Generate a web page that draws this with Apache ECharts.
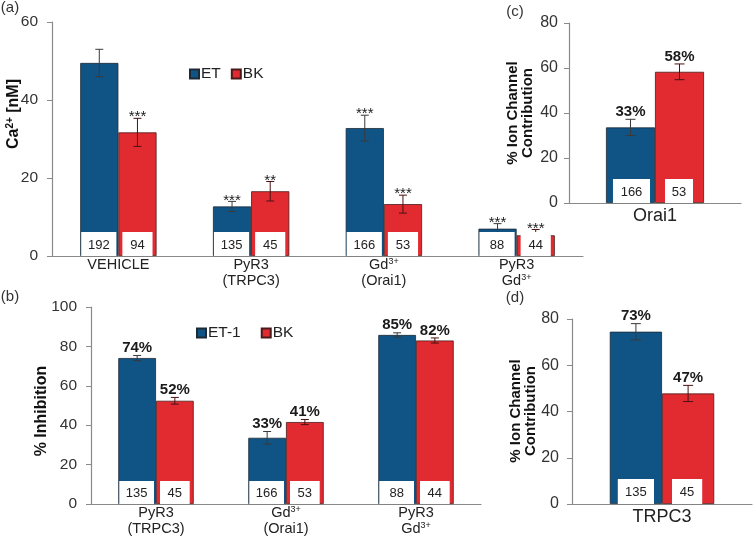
<!DOCTYPE html>
<html><head><meta charset="utf-8">
<script src="https://cdn.jsdelivr.net/npm/echarts/dist/echarts.min.js"></script>
<style>html,body{margin:0;padding:0;background:#fff}#c{width:755px;height:543px}</style>
</head><body><div id="c"></div>
<script>
// ---------- Panel (a): Ca2+ [nM] ----------
const catsA = ['VEHICLE', 'PyR3\n(TRPC3)', 'Gd{s|3+}\n(Orai1)', 'PyR3\nGd{s|3+}'];
const etA = [49.5, 12.7, 32.8, 7.0];
const etErrA = [3.5, 1.3, 3.3, 1.3];
const bkA = [31.7, 16.6, 13.3, 5.3];
const bkErrA = [3.6, 2.5, 2.3, 1.5];
const nEtA = [192, 135, 166, 88];
const nBkA = [94, 45, 53, 44];
const starEtA = ['', '***', '***', '***'];
const starBkA = ['***', '**', '***', '***'];
const maxA = 60;

// ---------- Panel (b): % Inhibition ----------
const catsB = ['PyR3\n(TRPC3)', 'Gd{s|3+}\n(Orai1)', 'PyR3\nGd{s|3+}'];
const etB = [74.1, 33.6, 85.8];
const etErrB = [1.3, 3.2, 1.1];
const bkB = [52.4, 41.6, 83.0];
const bkErrB = [1.7, 1.3, 1.3];
const nEtB = [135, 166, 88];
const nBkB = [45, 53, 44];
const pctEtB = ['74%', '33%', '85%'];
const pctBkB = ['52%', '41%', '82%'];
const maxB = 100;

// ---------- Panel (c): Orai1 contribution ----------
const catsC = ['Orai1'];
const etC = [33.6];
const etErrC = [3.6];
const bkC = [58.3];
const bkErrC = [3.5];
const nEtC = [166];
const nBkC = [53];
const pctEtC = ['33%'];
const pctBkC = ['58%'];
const maxC = 80;

// ---------- Panel (d): TRPC3 contribution ----------
const catsD = ['TRPC3'];
const etD = [74.5];
const etErrD = [3.5];
const bkD = [47.8];
const bkErrD = [3.5];
const nEtD = [135];
const nBkD = [45];
const pctEtD = ['73%'];
const pctBkD = ['47%'];
const maxD = 80;

const yInterval = 20;

// ---------- styles ----------
const FONT = "'Liberation Sans', Arial, Helvetica, sans-serif";
const BLUE = '#0f5485', RED = '#e22b31';
const AXIS = '#8a8a8a';

const panels = [
  {grid:{left:52, top:22, width:531, height:234}, cats:catsA, max:maxA, gap:0.425, xFont:14.5, xMargin:1, yFont:15.5, yMargin:14,
   et:etA, etErr:etErrA, bk:bkA, bkErr:bkErrA, nEt:nEtA, nBk:nBkA, noteEt:starEtA, noteBk:starBkA,
   insEt:[1,2], insBk:[4,4], boxH:24, cap:8, noteFont:'15px '+FONT, noteDy:-1, noteVA:'middle', etName:'ET', bkName:'BK'},
  {grid:{left:91, top:307, width:390, height:197}, cats:catsB, max:maxB, gap:0.42, xFont:14.5, xMargin:1, yFont:15.5, yMargin:14,
   et:etB, etErr:etErrB, bk:bkB, bkErr:bkErrB, nEt:nEtB, nBk:nBkB, noteEt:pctEtB, noteBk:pctBkB,
   insEt:[1,2], insBk:[4,4], boxH:23, cap:8, noteFont:'bold 15px '+FONT, noteDy:0, noteVA:'bottom', etName:'ET-1', bkName:'BK'},
  {grid:{left:569, top:23, width:172, height:180}, cats:catsC, max:maxC, gap:0.43, xFont:18, xMargin:5, yFont:16, yMargin:11,
   et:etC, etErr:etErrC, bk:bkC, bkErr:bkErrC, nEt:nEtC, nBk:nBkC, noteEt:pctEtC, noteBk:pctBkC,
   insEt:[7,5], insBk:[10,11], boxH:24, cap:10, noteFont:'bold 15px '+FONT, noteDy:0, noteVA:'bottom', etName:'ET c', bkName:'BK c'},
  {grid:{left:572, top:319, width:180, height:185}, cats:catsD, max:maxD, gap:0.42, xFont:18, xMargin:5, yFont:16, yMargin:13,
   et:etD, etErr:etErrD, bk:bkD, bkErr:bkErrD, nEt:nEtD, nBk:nBkD, noteEt:pctEtD, noteBk:pctBkD,
   insEt:[8,8], insBk:[10,12], boxH:25, cap:10, noteFont:'bold 15px '+FONT, noteDy:0, noteVA:'bottom', etName:'ET d', bkName:'BK d'}
];

function overlay(k, side, vals, errs, ns, notes, st) {
  return {
    type: 'custom', xAxisIndex: k, yAxisIndex: k, z: 5, silent: true,
    data: vals.map((v, i) => [i, v, errs[i]]),
    renderItem(params, api) {
      const i = params.dataIndex;
      const v = api.value(1), e = api.value(2);
      const band = api.size([1, 0])[0];
      const bw = band * (1 - st.gap) / 2;
      const p0 = api.coord([i, 0]);
      const left = side < 0 ? p0[0] - bw : p0[0];
      const cx = left + bw / 2;
      const yTop = api.coord([i, v + e])[1];
      const yBot = api.coord([i, v - e])[1];
      const ins = side < 0 ? st.insEt : st.insBk;
      const ec = side < 0 ? '#3a3a3a' : '#4a1212';
      const cap = st.cap;
      const ch = [];
      ch.push({type:'line', shape:{x1:cx, y1:yTop, x2:cx, y2:yBot}, style:{stroke:ec, lineWidth:1}});
      ch.push({type:'line', shape:{x1:cx-cap/2, y1:yTop, x2:cx+cap/2, y2:yTop}, style:{stroke:ec, lineWidth:1}});
      ch.push({type:'line', shape:{x1:cx-cap/2, y1:yBot, x2:cx+cap/2, y2:yBot}, style:{stroke:ec, lineWidth:1}});
      const bx = left + ins[0], bwid = bw - ins[0] - ins[1];
      ch.push({type:'rect', shape:{x:bx, y:p0[1]-st.boxH, width:bwid, height:st.boxH}, style:{fill:'#ffffff'}});
      ch.push({type:'text', style:{text:String(ns[i]), x:bx+bwid/2, y:p0[1]-st.boxH/2+1, align:'center', verticalAlign:'middle', font:'13px '+FONT, fill:'#222'}});
      if (notes[i]) {
        ch.push({type:'text', style:{text:notes[i], x:cx, y:yTop+st.noteDy, align:'center', verticalAlign:st.noteVA, font:st.noteFont, fill:'#1a1a1a'}});
      }
      return {type:'group', children: ch};
    }
  };
}

const grids = [], xAxes = [], yAxes = [], series = [];
panels.forEach((p, k) => {
  grids.push(Object.assign({containLabel:false}, p.grid));
  xAxes.push({
    type:'category', gridIndex:k, data:p.cats,
    axisLine:{lineStyle:{color:AXIS, width:1.2}}, axisTick:{show:false},
    axisLabel:{interval:0, fontSize:p.xFont, fontFamily:FONT, color:'#222', lineHeight:16, margin:p.xMargin,
      rich:{s:{fontSize:9, fontFamily:FONT, color:'#222', verticalAlign:'top', lineHeight:16}}}
  });
  yAxes.push({
    type:'value', gridIndex:k, min:0, max:p.max, interval:yInterval,
    axisLine:{show:true, lineStyle:{color:AXIS, width:1.2}},
    axisTick:{show:true, length:5, lineStyle:{color:AXIS}},
    splitLine:{show:false},
    axisLabel:{fontSize:p.yFont, fontFamily:FONT, color:'#333', margin:p.yMargin}
  });
  const gapStr = (p.gap * 100) + '%';
  series.push({type:'bar', name:p.etName, xAxisIndex:k, yAxisIndex:k, data:p.et, barGap:'0%', barCategoryGap:gapStr,
    itemStyle:{color:BLUE, borderColor:'#1d2a36', borderWidth:0.8}, z:2, silent:true});
  series.push({type:'bar', name:p.bkName, xAxisIndex:k, yAxisIndex:k, data:p.bk, barGap:'0%', barCategoryGap:gapStr,
    itemStyle:{color:RED, borderColor:'#4a1a1a', borderWidth:0.8}, z:2, silent:true});
  series.push(overlay(k, -1, p.et, p.etErr, p.nEt, p.noteEt, p));
  series.push(overlay(k, 1, p.bk, p.bkErr, p.nBk, p.noteBk, p));
});

const titleRich = {
  b:{fontSize:16, fontWeight:'bold', fontFamily:FONT, fill:'#111', color:'#111', lineHeight:18},
  s:{fontSize:10, fontWeight:'bold', fontFamily:FONT, fill:'#111', color:'#111', verticalAlign:'top', lineHeight:18}
};

const option = {
  backgroundColor:'#ffffff',
  animation:false,
  grid:grids, xAxis:xAxes, yAxis:yAxes, series:series,
  legend:[
    {data:['ET','BK'], left:184, top:61, itemWidth:9, itemHeight:9, itemGap:10, icon:'rect',
     textStyle:{fontSize:15.5, fontFamily:FONT, color:'#222', padding:[0,0,0,-3]}},
    {data:['ET-1','BK'], left:191, top:320, itemWidth:9, itemHeight:9, itemGap:20, icon:'rect',
     textStyle:{fontSize:15.5, fontFamily:FONT, color:'#222', padding:[0,0,0,-3]}}
  ],
  graphic:[
    {type:'text', x:10, y:8, style:{text:'(a)', font:'15px '+FONT, fill:'#333', align:'center', verticalAlign:'middle'}},
    {type:'text', x:10, y:297, style:{text:'(b)', font:'15px '+FONT, fill:'#333', align:'center', verticalAlign:'middle'}},
    {type:'text', x:515, y:12, style:{text:'(c)', font:'15px '+FONT, fill:'#333', align:'center', verticalAlign:'middle'}},
    {type:'text', x:515, y:298, style:{text:'(d)', font:'15px '+FONT, fill:'#333', align:'center', verticalAlign:'middle'}},
    {type:'text', x:14, y:114, rotation:Math.PI/2,
     style:{text:'{b|Ca}{s|2+}{b| [nM]}', rich:titleRich, align:'center', verticalAlign:'middle'}},
    {type:'text', x:42, y:411, rotation:Math.PI/2,
     style:{text:'% Inhibition', font:'bold 16px '+FONT, fill:'#111', align:'center', verticalAlign:'middle'}},
    {type:'text', x:520, y:113, rotation:Math.PI/2,
     style:{text:'% Ion Channel\nContribution', font:'bold 15px '+FONT, lineHeight:15, fill:'#111', align:'center', verticalAlign:'middle'}},
    {type:'text', x:523, y:411, rotation:Math.PI/2,
     style:{text:'% Ion Channel\nContribution', font:'bold 15px '+FONT, lineHeight:15, fill:'#111', align:'center', verticalAlign:'middle'}}
  ]
};

const chart = echarts.init(document.getElementById('c'), null, {renderer:'canvas'});
chart.setOption(option);
</script></body></html>
